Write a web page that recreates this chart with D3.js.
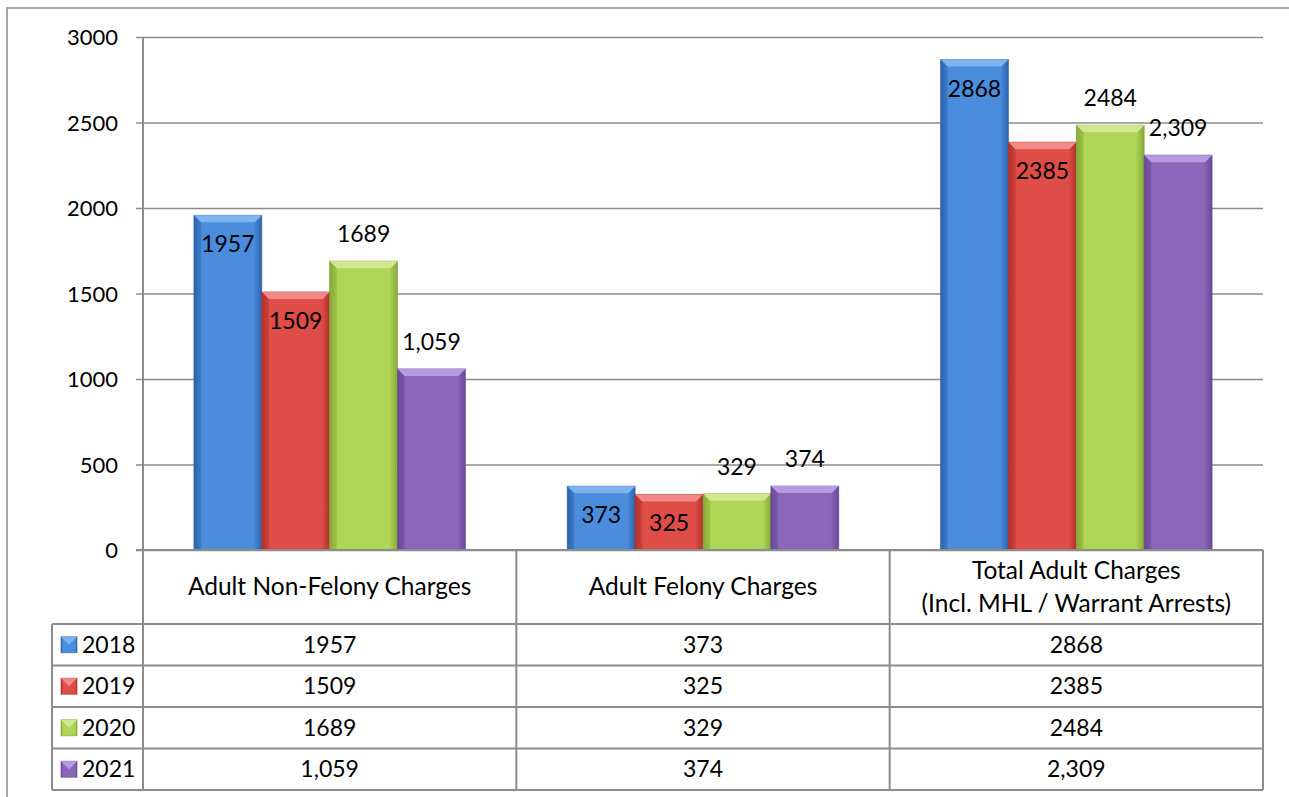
<!DOCTYPE html>
<html>
<head>
<meta charset="utf-8">
<script src="https://d3js.org/d3.v7.min.js"></script>
<style>
	body { margin: 0; background: #fff; }
	text { font-family: Lato, "Open Sans", sans-serif; fill: #000; }
</style>
</head>
<body>
<div id="chart"></div>
<script>
var categories = ["Adult Non-Felony Charges", "Adult Felony Charges", "Total Adult Charges|(Incl. MHL / Warrant Arrests)"]
var years = ["2018", "2019", "2020", "2021"]
var values2018 = [1957, 373, 2868]
var values2019 = [1509, 325, 2385]
var values2020 = [1689, 329, 2484]
var values2021 = [1059, 374, 2309]
var yTicks = [0, 500, 1000, 1500, 2000, 2500, 3000]

var series = [values2018, values2019, values2020, values2021]
var formats = [d3.format("d"), d3.format("d"), d3.format("d"), d3.format(",")]

function init() {
	var width = 1289
	var height = 797
	var plotLeft = 143
	var plotRight = 1263
	var plotTop = 37
	var plotBottom = 550
	var rowH = 41.5
	var headerBottom = 624
	var legendLeft = 52
	var gridColor = '#8c8c8c'

	var colors = [
		{ mid: '#4a8ddd', edge: '#2c63ad', top: '#7fb3ef', line: '#2f5f9e' },
		{ mid: '#df4d48', edge: '#b5302c', top: '#f08a86', line: '#9e2f2c' },
		{ mid: '#aed556', edge: '#86aa36', top: '#cfe890', line: '#7f9e3a' },
		{ mid: '#8a67bb', edge: '#6a4896', top: '#b79be0', line: '#5f4389' }
	]

	var svg = d3.select("#chart")
		.append("svg")
		.attr("width", width)
		.attr("height", height)

	var defs = svg.append("defs")
	colors.forEach(function (c, i) {
		var g = defs.append("linearGradient")
			.attr("id", "grad" + i)
			.attr("x1", "0").attr("x2", "1").attr("y1", "0").attr("y2", "0")
		g.append("stop").attr("offset", "0%").attr("stop-color", c.edge)
		g.append("stop").attr("offset", "12%").attr("stop-color", c.mid)
		g.append("stop").attr("offset", "88%").attr("stop-color", c.mid)
		g.append("stop").attr("offset", "100%").attr("stop-color", c.edge)
	})

	// outer frame
	svg.append("rect")
		.attr("x", 7)
		.attr("y", 8)
		.attr("width", 1320)
		.attr("height", 820)
		.style("fill", "none")
		.style("stroke", gridColor)
		.style("stroke-width", 1.5)

	var y = d3.scaleLinear().domain([0, 3000]).range([plotBottom, plotTop])
	var x0 = d3.scaleBand().domain(categories).range([plotLeft, plotRight]).padding(0)
	var x1 = d3.scaleBand().domain(years).range([0, x0.bandwidth()]).paddingInner(0).paddingOuter(0.75)

	// gridlines + y axis
	var yAxis = svg.append("g")
		.attr("transform", "translate(" + plotLeft + ",0)")
		.call(d3.axisLeft(y).tickValues(yTicks).tickSize(plotLeft - plotRight).tickPadding(0).tickFormat(d3.format("d")))
	yAxis.select(".domain").remove()
	yAxis.selectAll("line")
		.attr("x1", -7)
		.style("stroke", gridColor)
		.style("stroke-width", 1.5)
	yAxis.selectAll("text")
		.attr("x", -25)
		.attr("dy", "0.36em")
		.style("font-size", "22px")
		.style("font-family", "Lato, sans-serif")

	// bars
	var groups = svg.selectAll(".grp")
		.data(categories)
		.enter().append("g")
		.attr("class", "grp")
		.attr("transform", function (d) { return "translate(" + x0(d) + ",0)" })

	years.forEach(function (yr, si) {
		var c = colors[si]
		var bw = x1.bandwidth()
		groups.each(function (cat, ci) {
			var v = series[si][ci]
			var bx = x1(yr)
			var by = y(v)
			var g = d3.select(this)
			g.append("rect")
				.attr("x", bx)
				.attr("y", by)
				.attr("width", bw)
				.attr("height", plotBottom - by)
				.style("fill", "url(#grad" + si + ")")
				.style("stroke", c.line)
				.style("stroke-opacity", 0.6)
				.style("stroke-width", 1)
			var bev = 7
			g.append("path")
				.attr("d", "M" + bx + "," + by + "L" + (bx + bw) + "," + by +
					"L" + (bx + bw - bev) + "," + (by + bev) + "L" + (bx + bev) + "," + (by + bev) + "Z")
				.style("fill", c.top)
			g.append("path")
				.attr("d", "M" + bx + "," + by + "L" + (bx + bev) + "," + (by + bev) +
					"L" + (bx + bev) + "," + plotBottom + "L" + bx + "," + plotBottom + "Z")
				.style("fill", c.edge)
				.style("opacity", 0.35)
			g.append("text")
				.attr("x", bx + bw / 2)
				.attr("y", si < 2 ? by + 37 : by - 19)
				.attr("text-anchor", "middle")
				.style("font-size", "23px")
				.text(formats[si](v))
		})
	})

	// data table lines
	var lines = svg.append("g").style("stroke", gridColor).style("stroke-width", 2)
	var vx = [plotLeft].concat(categories.map(function (d) { return x0(d) + x0.bandwidth() }))
	vx.forEach(function (xx, i) {
		lines.append("line")
			.attr("x1", xx).attr("x2", xx)
			.attr("y1", i == 0 ? plotTop : plotBottom).attr("y2", headerBottom + rowH * years.length)
	})
	lines.append("line")
		.attr("x1", legendLeft).attr("x2", legendLeft)
		.attr("y1", headerBottom).attr("y2", headerBottom + rowH * years.length)
	lines.append("line")
		.attr("x1", plotLeft - 7).attr("x2", plotRight)
		.attr("y1", plotBottom).attr("y2", plotBottom)
	for (var r = 0; r <= years.length; r++) {
		lines.append("line")
			.attr("x1", legendLeft).attr("x2", plotRight)
			.attr("y1", headerBottom + rowH * r).attr("y2", headerBottom + rowH * r)
	}

	// category headers
	categories.forEach(function (cat) {
		var parts = cat.split("|")
		var cx = x0(cat) + x0.bandwidth() / 2
		parts.forEach(function (p, i) {
			svg.append("text")
				.attr("x", cx)
				.attr("y", parts.length == 1 ? 595 : 579 + i * 33)
				.attr("text-anchor", "middle")
				.style("font-size", "24.5px")
				.text(p)
		})
	})

	// table rows
	years.forEach(function (yr, si) {
		var cy = headerBottom + rowH * si + rowH / 2
		var c = colors[si]
		svg.append("rect")
			.attr("x", 61).attr("y", cy - 8)
			.attr("width", 16).attr("height", 16)
			.style("fill", "url(#grad" + si + ")")
			.style("stroke", c.line).style("stroke-opacity", 0.6)
		svg.append("path")
			.attr("d", "M61," + (cy - 8) + "L77," + (cy - 8) + "L69," + cy + "Z")
			.style("fill", c.top)
		svg.append("text")
			.attr("x", 82).attr("y", cy + 8)
			.style("font-size", "23px")
			.text(yr)
		categories.forEach(function (cat, ci) {
			svg.append("text")
				.attr("x", x0(cat) + x0.bandwidth() / 2)
				.attr("y", cy + 8)
				.attr("text-anchor", "middle")
				.style("font-size", "23px")
				.text(formats[si](series[si][ci]))
		})
	})
}

init()
</script>
</body>
</html>
